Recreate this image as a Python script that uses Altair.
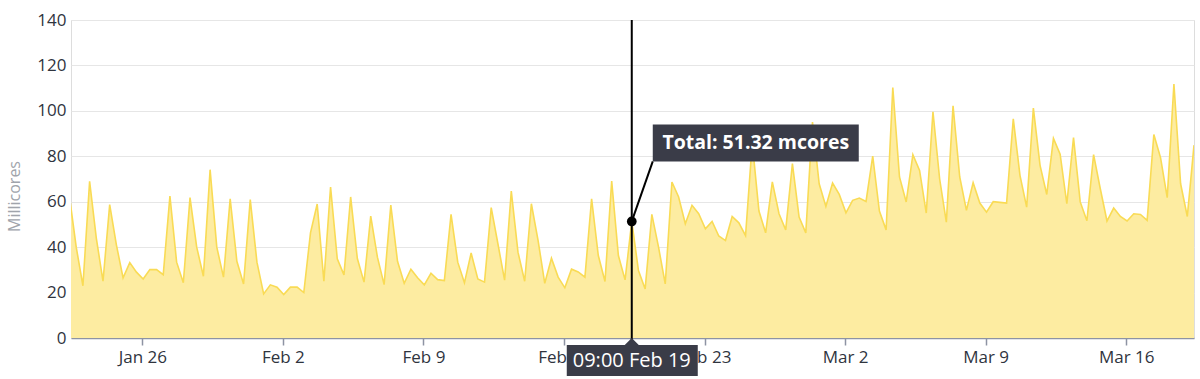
import altair as alt
import pandas as pd

# ---- data -------------------------------------------------------------
start_time = "2021-01-22 09:00"   # one sample every 8 hours
step = "8h"

values = [
    62, 40, 23, 69, 44, 25, 58.7, 41, 26.5, 33.2, 29, 26, 30.1, 30.1, 27.9,
    62.5, 33.4, 24.3, 61.8, 40, 27.2, 74.1, 40, 26.8, 61.3, 33.8, 23.8, 60.9,
    33.4, 19.4, 23.4, 22.4, 19.1, 22.4, 22.4, 20, 46.3, 59, 25, 66.5, 34.9,
    27.8, 62.1, 35, 24.6, 53.7, 35.6, 23.5, 58.5, 33.8, 24.1, 30.3, 26.5,
    23.4, 28.5, 25.7, 25.3, 54.4, 33.4, 24.3, 37.4, 26, 24.6, 57.4, 41.5,
    25.5, 64.7, 37.8, 25, 59.1, 43, 24.1, 35.1, 26.8, 22.1, 30.3, 29.1, 26.8,
    61.3, 36.3, 24.9, 69.1, 36.3, 25.6, 51.32, 29.7, 21.6, 54.4, 40, 23.8,
    68.7, 62.1, 50.3, 58.4, 54.7, 48.1, 51.3, 44.9, 42.9, 53.5, 50.7, 45.1,
    86, 55.9, 46.3, 68.7, 54.7, 47.6, 76.8, 53.2, 46.3, 95.1, 67.9, 57.9,
    68.2, 63.2, 55.1, 60.6, 61.6, 60.1, 80.1, 55.9, 47.6, 110.3, 70.9, 59.9,
    80.7, 73.8, 55, 99.6, 70, 51, 102.2, 70.9, 56.2, 68.4, 59.4, 55.4, 60,
    59.7, 59.4, 96.5, 71.6, 57.6, 101.2, 76, 63.2, 87.9, 80.9, 59.1, 88.2,
    59.9, 51.6, 80.7, 65.7, 51.5, 57.2, 53.5, 51.5, 54.7, 54.4, 51.8, 89.6,
    79.4, 61.8, 111.8, 67.9, 53.5, 84.9,
]

y_ticks = [0, 20, 40, 60, 80, 100, 120, 140]
x_tick_dates = [(1, 26), (2, 2), (2, 9), (2, 16), (2, 23), (3, 2), (3, 9), (3, 16)]

hover_time = "2021-02-19T09:00:00"
hover_value = 51.32
hover_label = "Total: 51.32 mcores"
hover_date_label = "09:00 Feb 19"

# ---- styling ----------------------------------------------------------
FILL = "#fdeca1"
LINE = "#f9db55"
BOX = "#3a3c48"
FONT = "Open Sans"
W, H = 1123, 318

times = pd.date_range(start_time, periods=len(values), freq=step)
df = pd.DataFrame({"time": times.strftime("%Y-%m-%dT%H:%M:%S"), "value": values})
hover = pd.DataFrame({"time": [hover_time], "value": [hover_value],
                      "label": [hover_label], "date": [hover_date_label]})

x_scale = alt.Scale(domain=[
    alt.DateTime(year=2021, month=1, date=22, hours=10, minutes=45),
    alt.DateTime(year=2021, month=3, date=19, hours=9),
])
y_scale = alt.Scale(domain=[0, 140], nice=False)

x_axis = alt.Axis(
    values=[alt.DateTime(year=2021, month=m, date=d) for m, d in x_tick_dates],
    format="%b %-d", title=None, grid=False,
    labelFont=FONT, labelFontSize=17, labelColor="#2f343e",
    tickColor="#8d93a3", tickSize=7, tickWidth=1.5,
    domainColor="#8d93a3", domainWidth=1.5, labelPadding=4,
)
y_axis = alt.Axis(
    values=y_ticks, title="Millicores", ticks=False, domain=False,
    labelFont=FONT, labelFontSize=17, labelColor="#2f343e", labelPadding=5,
    gridColor="#e6e6e6", gridWidth=1.2,
    titleFont=FONT, titleFontSize=16, titleFontWeight="normal", titleColor="#a0a4ab",
    titleX=-52, titleY=176, titleBaseline="alphabetic",
)

X = alt.X("time:T", scale=x_scale, axis=x_axis)
Y = alt.Y("value:Q", scale=y_scale, axis=y_axis)

base = alt.Chart(df)
area = base.mark_area(color=FILL, clip=True, opacity=1).encode(x=X, y=Y)
line = base.mark_line(color=LINE, strokeWidth=1.6, clip=True).encode(x=X, y=Y)

h = alt.Chart(hover)
hx = alt.X("time:T", scale=x_scale)
hy = alt.Y("value:Q", scale=y_scale)

cross = h.mark_rule(color="black", strokeWidth=2).encode(
    x=hx, y=alt.value(0), y2=alt.value(H + 8))
leader = h.mark_rule(color="black", strokeWidth=2, x2Offset=21, y2Offset=-60).encode(
    x=hx, y=hy, x2=alt.X2("time:T"), y2=alt.Y2("value:Q"))
dot = h.mark_circle(color="black", size=95, opacity=1).encode(x=hx, y=hy)
tip_box = h.mark_rect(color=BOX, xOffset=21, x2Offset=227, yOffset=-97, y2Offset=-60).encode(
    x=hx, y=hy, x2=alt.X2("time:T"), y2=alt.Y2("value:Q"))
tip_text = h.mark_text(color="white", font=FONT, fontSize=19.5, fontWeight="bold",
                       dx=124, dy=-78, baseline="middle", align="center").encode(
    x=hx, y=hy, text="label:N")
date_box = h.mark_rect(color=BOX, xOffset=-65, x2Offset=66).encode(
    x=hx, x2=alt.X2("time:T"), y=alt.value(H + 7), y2=alt.value(H + 38))
pointer = h.mark_point(shape="M -1 0 L 1 0 L 0 -1 Z", filled=True, color=BOX,
                       opacity=1, size=196, strokeWidth=0).encode(
    x=hx, y=alt.value(H + 7))
date_text = h.mark_text(color="white", font=FONT, fontSize=20,
                        baseline="middle", align="center").encode(
    x=hx, y=alt.value(H + 23), text="date:N")

chart = alt.layer(
    area, line, cross, leader, dot, tip_box, tip_text, date_box, pointer, date_text
).properties(
    width=W, height=H,
    autosize=alt.AutoSizeParams(type="none"),
    padding={"left": 71, "top": 20, "right": 6, "bottom": 41},
).configure_view(stroke=None).configure(background="white")

chart.save("out.html", embed_options={"renderer": "svg", "actions": False})
